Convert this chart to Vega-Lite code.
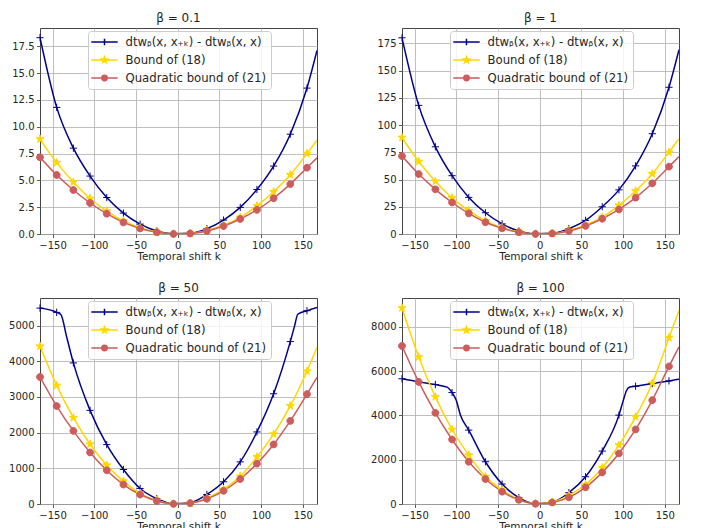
{
  "$schema": "https://vega.github.io/schema/vega-lite/v6.json",
  "padding": {"left": 8, "top": 11, "right": 0, "bottom": 0},
  "background": "white",
  "columns": 2,
  "spacing": {"row": 64, "column": 85},
  "bounds": "flush",
  "data": {"values": [
    {"p":1,"s":"A","k":-165,"v":18.3,"m":1},{"p":1,"s":"A","k":-145,"v":11.8,"m":1},{"p":1,"s":"A","k":-125,"v":8.0,"m":1},{"p":1,"s":"A","k":-105,"v":5.4,"m":1},{"p":1,"s":"A","k":-85,"v":3.4,"m":1},{"p":1,"s":"A","k":-65,"v":1.95,"m":1},{"p":1,"s":"A","k":-45,"v":0.92,"m":1},{"p":1,"s":"A","k":-25,"v":0.28,"m":1},{"p":1,"s":"A","k":-5,"v":0.02,"m":1},{"p":1,"s":"A","k":15,"v":0.06,"m":1},{"p":1,"s":"A","k":35,"v":0.5,"m":1},{"p":1,"s":"A","k":55,"v":1.3,"m":1},{"p":1,"s":"A","k":75,"v":2.48,"m":1},{"p":1,"s":"A","k":95,"v":4.15,"m":1},{"p":1,"s":"A","k":115,"v":6.33,"m":1},{"p":1,"s":"A","k":135,"v":9.3,"m":1},{"p":1,"s":"A","k":155,"v":13.6,"m":1},{"p":1,"s":"A","k":167,"v":17.1,"m":0},
    {"p":1,"s":"B","k":-165,"v":8.85,"m":1},{"p":1,"s":"B","k":-145,"v":6.65,"m":1},{"p":1,"s":"B","k":-125,"v":4.84,"m":1},{"p":1,"s":"B","k":-105,"v":3.31,"m":1},{"p":1,"s":"B","k":-85,"v":2.14,"m":1},{"p":1,"s":"B","k":-65,"v":1.21,"m":1},{"p":1,"s":"B","k":-45,"v":0.58,"m":1},{"p":1,"s":"B","k":-25,"v":0.17,"m":1},{"p":1,"s":"B","k":-5,"v":0.01,"m":1},{"p":1,"s":"B","k":15,"v":0.05,"m":1},{"p":1,"s":"B","k":35,"v":0.33,"m":1},{"p":1,"s":"B","k":55,"v":0.82,"m":1},{"p":1,"s":"B","k":75,"v":1.55,"m":1},{"p":1,"s":"B","k":95,"v":2.63,"m":1},{"p":1,"s":"B","k":115,"v":3.94,"m":1},{"p":1,"s":"B","k":135,"v":5.52,"m":1},{"p":1,"s":"B","k":155,"v":7.5,"m":1},{"p":1,"s":"B","k":167,"v":8.75,"m":0},
    {"p":1,"s":"C","k":-165,"v":7.15,"m":1},{"p":1,"s":"C","k":-145,"v":5.5,"m":1},{"p":1,"s":"C","k":-125,"v":4.1,"m":1},{"p":1,"s":"C","k":-105,"v":2.89,"m":1},{"p":1,"s":"C","k":-85,"v":1.89,"m":1},{"p":1,"s":"C","k":-65,"v":1.08,"m":1},{"p":1,"s":"C","k":-45,"v":0.52,"m":1},{"p":1,"s":"C","k":-25,"v":0.17,"m":1},{"p":1,"s":"C","k":-5,"v":0.01,"m":1},{"p":1,"s":"C","k":15,"v":0.05,"m":1},{"p":1,"s":"C","k":35,"v":0.28,"m":1},{"p":1,"s":"C","k":55,"v":0.74,"m":1},{"p":1,"s":"C","k":75,"v":1.4,"m":1},{"p":1,"s":"C","k":95,"v":2.25,"m":1},{"p":1,"s":"C","k":115,"v":3.33,"m":1},{"p":1,"s":"C","k":135,"v":4.65,"m":1},{"p":1,"s":"C","k":155,"v":6.18,"m":1},{"p":1,"s":"C","k":167,"v":7.1,"m":0},

    {"p":2,"s":"A","k":-165,"v":180,"m":1},{"p":2,"s":"A","k":-145,"v":118,"m":1},{"p":2,"s":"A","k":-125,"v":80,"m":1},{"p":2,"s":"A","k":-105,"v":53.5,"m":1},{"p":2,"s":"A","k":-85,"v":33.6,"m":1},{"p":2,"s":"A","k":-65,"v":19.5,"m":1},{"p":2,"s":"A","k":-45,"v":9.3,"m":1},{"p":2,"s":"A","k":-25,"v":2.8,"m":1},{"p":2,"s":"A","k":-5,"v":0.2,"m":1},{"p":2,"s":"A","k":15,"v":0.6,"m":1},{"p":2,"s":"A","k":35,"v":5,"m":1},{"p":2,"s":"A","k":55,"v":12.5,"m":1},{"p":2,"s":"A","k":75,"v":25,"m":1},{"p":2,"s":"A","k":95,"v":40.5,"m":1},{"p":2,"s":"A","k":115,"v":62.5,"m":1},{"p":2,"s":"A","k":135,"v":92,"m":1},{"p":2,"s":"A","k":155,"v":134.6,"m":1},{"p":2,"s":"A","k":167,"v":169,"m":0},
    {"p":2,"s":"B","k":-165,"v":88.5,"m":1},{"p":2,"s":"B","k":-145,"v":66.5,"m":1},{"p":2,"s":"B","k":-125,"v":48.4,"m":1},{"p":2,"s":"B","k":-105,"v":33.1,"m":1},{"p":2,"s":"B","k":-85,"v":21.4,"m":1},{"p":2,"s":"B","k":-65,"v":12.1,"m":1},{"p":2,"s":"B","k":-45,"v":5.8,"m":1},{"p":2,"s":"B","k":-25,"v":1.7,"m":1},{"p":2,"s":"B","k":-5,"v":0.1,"m":1},{"p":2,"s":"B","k":15,"v":0.5,"m":1},{"p":2,"s":"B","k":35,"v":3.3,"m":1},{"p":2,"s":"B","k":55,"v":8.2,"m":1},{"p":2,"s":"B","k":75,"v":15.5,"m":1},{"p":2,"s":"B","k":95,"v":26.3,"m":1},{"p":2,"s":"B","k":115,"v":39.4,"m":1},{"p":2,"s":"B","k":135,"v":55.2,"m":1},{"p":2,"s":"B","k":155,"v":75,"m":1},{"p":2,"s":"B","k":167,"v":87.5,"m":0},
    {"p":2,"s":"C","k":-165,"v":71.5,"m":1},{"p":2,"s":"C","k":-145,"v":55,"m":1},{"p":2,"s":"C","k":-125,"v":41,"m":1},{"p":2,"s":"C","k":-105,"v":28.9,"m":1},{"p":2,"s":"C","k":-85,"v":18.9,"m":1},{"p":2,"s":"C","k":-65,"v":10.8,"m":1},{"p":2,"s":"C","k":-45,"v":5.2,"m":1},{"p":2,"s":"C","k":-25,"v":1.7,"m":1},{"p":2,"s":"C","k":-5,"v":0.1,"m":1},{"p":2,"s":"C","k":15,"v":0.5,"m":1},{"p":2,"s":"C","k":35,"v":2.8,"m":1},{"p":2,"s":"C","k":55,"v":7.4,"m":1},{"p":2,"s":"C","k":75,"v":14,"m":1},{"p":2,"s":"C","k":95,"v":22.5,"m":1},{"p":2,"s":"C","k":115,"v":33.3,"m":1},{"p":2,"s":"C","k":135,"v":46.5,"m":1},{"p":2,"s":"C","k":155,"v":61.8,"m":1},{"p":2,"s":"C","k":167,"v":71,"m":0},

    {"p":3,"s":"A","k":-165,"v":5492,"m":1},{"p":3,"s":"A","k":-145,"v":5372,"m":1},{"p":3,"s":"A","k":-140,"v":5310,"m":0},{"p":3,"s":"A","k":-133,"v":4680,"m":0},{"p":3,"s":"A","k":-125,"v":3955,"m":1},{"p":3,"s":"A","k":-105,"v":2625,"m":1},{"p":3,"s":"A","k":-85,"v":1665,"m":1},{"p":3,"s":"A","k":-65,"v":967,"m":1},{"p":3,"s":"A","k":-45,"v":436,"m":1},{"p":3,"s":"A","k":-25,"v":150,"m":1},{"p":3,"s":"A","k":-5,"v":8,"m":1},{"p":3,"s":"A","k":15,"v":35,"m":1},{"p":3,"s":"A","k":35,"v":268,"m":1},{"p":3,"s":"A","k":55,"v":623,"m":1},{"p":3,"s":"A","k":75,"v":1181,"m":1},{"p":3,"s":"A","k":95,"v":2020,"m":1},{"p":3,"s":"A","k":115,"v":3090,"m":1},{"p":3,"s":"A","k":135,"v":4553,"m":1},{"p":3,"s":"A","k":140,"v":4980,"m":0},{"p":3,"s":"A","k":144,"v":5320,"m":0},{"p":3,"s":"A","k":155,"v":5419,"m":1},{"p":3,"s":"A","k":167,"v":5511,"m":0},
    {"p":3,"s":"B","k":-165,"v":4422,"m":1},{"p":3,"s":"B","k":-145,"v":3324,"m":1},{"p":3,"s":"B","k":-125,"v":2419,"m":1},{"p":3,"s":"B","k":-105,"v":1676,"m":1},{"p":3,"s":"B","k":-85,"v":1089,"m":1},{"p":3,"s":"B","k":-65,"v":642,"m":1},{"p":3,"s":"B","k":-45,"v":300,"m":1},{"p":3,"s":"B","k":-25,"v":100,"m":1},{"p":3,"s":"B","k":-5,"v":5,"m":1},{"p":3,"s":"B","k":15,"v":20,"m":1},{"p":3,"s":"B","k":35,"v":165,"m":1},{"p":3,"s":"B","k":55,"v":410,"m":1},{"p":3,"s":"B","k":75,"v":775,"m":1},{"p":3,"s":"B","k":95,"v":1320,"m":1},{"p":3,"s":"B","k":115,"v":1960,"m":1},{"p":3,"s":"B","k":135,"v":2750,"m":1},{"p":3,"s":"B","k":155,"v":3723,"m":1},{"p":3,"s":"B","k":167,"v":4390,"m":0},
    {"p":3,"s":"C","k":-165,"v":3560,"m":1},{"p":3,"s":"C","k":-145,"v":2746,"m":1},{"p":3,"s":"C","k":-125,"v":2050,"m":1},{"p":3,"s":"C","k":-105,"v":1445,"m":1},{"p":3,"s":"C","k":-85,"v":945,"m":1},{"p":3,"s":"C","k":-65,"v":545,"m":1},{"p":3,"s":"C","k":-45,"v":265,"m":1},{"p":3,"s":"C","k":-25,"v":85,"m":1},{"p":3,"s":"C","k":-5,"v":5,"m":1},{"p":3,"s":"C","k":15,"v":25,"m":1},{"p":3,"s":"C","k":35,"v":145,"m":1},{"p":3,"s":"C","k":55,"v":370,"m":1},{"p":3,"s":"C","k":75,"v":700,"m":1},{"p":3,"s":"C","k":95,"v":1130,"m":1},{"p":3,"s":"C","k":115,"v":1670,"m":1},{"p":3,"s":"C","k":135,"v":2330,"m":1},{"p":3,"s":"C","k":155,"v":3080,"m":1},{"p":3,"s":"C","k":167,"v":3550,"m":0},

    {"p":4,"s":"A","k":-165,"v":5660,"m":1},{"p":4,"s":"A","k":-145,"v":5519,"m":1},{"p":4,"s":"A","k":-125,"v":5397,"m":1},{"p":4,"s":"A","k":-111,"v":5280,"m":0},{"p":4,"s":"A","k":-105,"v":5036,"m":1},{"p":4,"s":"A","k":-100,"v":4690,"m":0},{"p":4,"s":"A","k":-95,"v":4020,"m":0},{"p":4,"s":"A","k":-85,"v":3339,"m":1},{"p":4,"s":"A","k":-65,"v":1909,"m":1},{"p":4,"s":"A","k":-45,"v":902,"m":1},{"p":4,"s":"A","k":-25,"v":290,"m":1},{"p":4,"s":"A","k":-5,"v":15,"m":1},{"p":4,"s":"A","k":15,"v":80,"m":1},{"p":4,"s":"A","k":35,"v":511,"m":1},{"p":4,"s":"A","k":55,"v":1232,"m":1},{"p":4,"s":"A","k":75,"v":2392,"m":1},{"p":4,"s":"A","k":95,"v":4016,"m":1},{"p":4,"s":"A","k":100,"v":4650,"m":0},{"p":4,"s":"A","k":104,"v":5120,"m":0},{"p":4,"s":"A","k":108,"v":5285,"m":0},{"p":4,"s":"A","k":115,"v":5325,"m":1},{"p":4,"s":"A","k":135,"v":5442,"m":1},{"p":4,"s":"A","k":155,"v":5564,"m":1},{"p":4,"s":"A","k":167,"v":5641,"m":0},
    {"p":4,"s":"B","k":-165,"v":8858,"m":1},{"p":4,"s":"B","k":-145,"v":6647,"m":1},{"p":4,"s":"B","k":-125,"v":4842,"m":1},{"p":4,"s":"B","k":-105,"v":3367,"m":1},{"p":4,"s":"B","k":-85,"v":2211,"m":1},{"p":4,"s":"B","k":-65,"v":1240,"m":1},{"p":4,"s":"B","k":-45,"v":640,"m":1},{"p":4,"s":"B","k":-25,"v":200,"m":1},{"p":4,"s":"B","k":-5,"v":12,"m":1},{"p":4,"s":"B","k":15,"v":80,"m":1},{"p":4,"s":"B","k":35,"v":400,"m":1},{"p":4,"s":"B","k":55,"v":880,"m":1},{"p":4,"s":"B","k":75,"v":1640,"m":1},{"p":4,"s":"B","k":95,"v":2662,"m":1},{"p":4,"s":"B","k":115,"v":3940,"m":1},{"p":4,"s":"B","k":135,"v":5460,"m":1},{"p":4,"s":"B","k":155,"v":7518,"m":1},{"p":4,"s":"B","k":167,"v":8750,"m":0},
    {"p":4,"s":"C","k":-165,"v":7143,"m":1},{"p":4,"s":"C","k":-145,"v":5519,"m":1},{"p":4,"s":"C","k":-125,"v":4120,"m":1},{"p":4,"s":"C","k":-105,"v":2915,"m":1},{"p":4,"s":"C","k":-85,"v":1909,"m":1},{"p":4,"s":"C","k":-65,"v":1128,"m":1},{"p":4,"s":"C","k":-45,"v":557,"m":1},{"p":4,"s":"C","k":-25,"v":190,"m":1},{"p":4,"s":"C","k":-5,"v":15,"m":1},{"p":4,"s":"C","k":15,"v":70,"m":1},{"p":4,"s":"C","k":35,"v":300,"m":1},{"p":4,"s":"C","k":55,"v":752,"m":1},{"p":4,"s":"C","k":75,"v":1429,"m":1},{"p":4,"s":"C","k":95,"v":2286,"m":1},{"p":4,"s":"C","k":115,"v":3369,"m":1},{"p":4,"s":"C","k":135,"v":4693,"m":1},{"p":4,"s":"C","k":155,"v":6220,"m":1},{"p":4,"s":"C","k":167,"v":7100,"m":0}
  ]},
  "concat": [
    {
      "title": "β = 0.1",
      "width": 277, "height": 206,
      "transform": [{"filter": "datum.p == 1"}],
      "encoding": {
        "x": {"field": "k", "type": "quantitative", "scale": {"domain": [-165, 167], "nice": false, "zero": false}, "axis": {"values": [-150, -100, -50, 0, 50, 100, 150], "title": "Temporal shift k"}},
        "y": {"field": "v", "type": "quantitative", "scale": {"domain": [0, 19.2], "nice": false}, "axis": {"values": [0, 2.5, 5, 7.5, 10, 12.5, 15, 17.5], "format": ".1f", "title": null}}
      },
      "layer": [
        {"mark": {"type": "line", "interpolate": "monotone", "strokeWidth": 1.5, "clip": true},
         "encoding": {"detail": {"field": "s", "type": "nominal"}, "stroke": {"condition": [{"test": "datum.s == 'A'", "value": "#00008B"}, {"test": "datum.s == 'B'", "value": "#FFD700"}], "value": "#CD5C5C"}}},
        {"transform": [{"filter": "datum.m == 1"}],
         "mark": {"type": "point", "filled": true, "size": 64, "strokeWidth": 1, "opacity": 1},
         "encoding": {
           "fill": {"condition": [{"test": "datum.s == 'A'", "value": "#00008B"}, {"test": "datum.s == 'B'", "value": "#FFD700"}], "value": "#CD5C5C"},
           "stroke": {"condition": [{"test": "datum.s == 'A'", "value": "#00008B"}, {"test": "datum.s == 'B'", "value": "#FFD700"}], "value": "#CD5C5C"},
           "shape": {"condition": [{"test": "datum.s == 'A'", "value": "M-0.9,0H0.9M0,-0.9V0.9"}, {"test": "datum.s == 'B'", "value": "M0,-1.05L0.236,-0.324L0.999,-0.324L0.381,0.124L0.617,0.849L0,0.401L-0.617,0.849L-0.381,0.124L-0.999,-0.324L-0.236,-0.324Z"}], "value": "M0.85,0A0.85,0.85,0,1,1,-0.85,0A0.85,0.85,0,1,1,0.85,0Z"}
         }},
        {"transform": [{"filter": "datum.m == 9"}],
         "mark": {"type": "point", "filled": true, "size": 144, "strokeWidth": 1.5, "opacity": 1},
         "encoding": {
           "color": {"field": "s", "type": "nominal", "scale": {"domain": ["A", "B", "C"], "range": ["#00008B", "#FFD700", "#CD5C5C"]}, "legend": {"title": null, "labelExpr": "datum.value == 'A' ? 'dtwᵦ(x, x₊ₖ) - dtwᵦ(x, x)' : datum.value == 'B' ? 'Bound of (18)' : 'Quadratic bound of (21)'"}},
           "stroke": {"field": "s", "type": "nominal", "scale": {"domain": ["A", "B", "C"], "range": ["#00008B", "#FFD700", "#CD5C5C"]}, "legend": {"title": null, "labelExpr": "datum.value == 'A' ? 'dtwᵦ(x, x₊ₖ) - dtwᵦ(x, x)' : datum.value == 'B' ? 'Bound of (18)' : 'Quadratic bound of (21)'"}},
           "shape": {"field": "s", "type": "nominal", "scale": {"domain": ["A", "B", "C"], "range": ["M-2.2,0H2.2M0,-0.55V0.55", "M-2.2,0H2.2M0,-0.5L0.113,-0.155L0.476,-0.155L0.182,0.059L0.294,0.405L0,0.191L-0.294,0.405L-0.182,0.059L-0.476,-0.155L-0.113,-0.155Z", "M-2.2,0H2.2M0.45,0A0.45,0.45,0,1,1,-0.45,0A0.45,0.45,0,1,1,0.45,0Z"]}, "legend": {"title": null, "labelExpr": "datum.value == 'A' ? 'dtwᵦ(x, x₊ₖ) - dtwᵦ(x, x)' : datum.value == 'B' ? 'Bound of (18)' : 'Quadratic bound of (21)'"}}
         }}
      ]
    },
    {
      "title": "β = 1",
      "width": 277, "height": 206,
      "transform": [{"filter": "datum.p == 2"}],
      "encoding": {
        "x": {"field": "k", "type": "quantitative", "scale": {"domain": [-165, 167], "nice": false, "zero": false}, "axis": {"values": [-150, -100, -50, 0, 50, 100, 150], "title": "Temporal shift k"}},
        "y": {"field": "v", "type": "quantitative", "scale": {"domain": [0, 189], "nice": false}, "axis": {"values": [0, 25, 50, 75, 100, 125, 150, 175], "title": null}}
      },
      "layer": [
        {"mark": {"type": "line", "interpolate": "monotone", "strokeWidth": 1.5, "clip": true},
         "encoding": {"detail": {"field": "s", "type": "nominal"}, "stroke": {"condition": [{"test": "datum.s == 'A'", "value": "#00008B"}, {"test": "datum.s == 'B'", "value": "#FFD700"}], "value": "#CD5C5C"}}},
        {"transform": [{"filter": "datum.m == 1"}],
         "mark": {"type": "point", "filled": true, "size": 64, "strokeWidth": 1, "opacity": 1},
         "encoding": {
           "fill": {"condition": [{"test": "datum.s == 'A'", "value": "#00008B"}, {"test": "datum.s == 'B'", "value": "#FFD700"}], "value": "#CD5C5C"},
           "stroke": {"condition": [{"test": "datum.s == 'A'", "value": "#00008B"}, {"test": "datum.s == 'B'", "value": "#FFD700"}], "value": "#CD5C5C"},
           "shape": {"condition": [{"test": "datum.s == 'A'", "value": "M-0.9,0H0.9M0,-0.9V0.9"}, {"test": "datum.s == 'B'", "value": "M0,-1.05L0.236,-0.324L0.999,-0.324L0.381,0.124L0.617,0.849L0,0.401L-0.617,0.849L-0.381,0.124L-0.999,-0.324L-0.236,-0.324Z"}], "value": "M0.85,0A0.85,0.85,0,1,1,-0.85,0A0.85,0.85,0,1,1,0.85,0Z"}
         }},
        {"transform": [{"filter": "datum.m == 9"}],
         "mark": {"type": "point", "filled": true, "size": 144, "strokeWidth": 1.5, "opacity": 1},
         "encoding": {
           "color": {"field": "s", "type": "nominal", "scale": {"domain": ["A", "B", "C"], "range": ["#00008B", "#FFD700", "#CD5C5C"]}, "legend": {"title": null, "labelExpr": "datum.value == 'A' ? 'dtwᵦ(x, x₊ₖ) - dtwᵦ(x, x)' : datum.value == 'B' ? 'Bound of (18)' : 'Quadratic bound of (21)'"}},
           "stroke": {"field": "s", "type": "nominal", "scale": {"domain": ["A", "B", "C"], "range": ["#00008B", "#FFD700", "#CD5C5C"]}, "legend": {"title": null, "labelExpr": "datum.value == 'A' ? 'dtwᵦ(x, x₊ₖ) - dtwᵦ(x, x)' : datum.value == 'B' ? 'Bound of (18)' : 'Quadratic bound of (21)'"}},
           "shape": {"field": "s", "type": "nominal", "scale": {"domain": ["A", "B", "C"], "range": ["M-2.2,0H2.2M0,-0.55V0.55", "M-2.2,0H2.2M0,-0.5L0.113,-0.155L0.476,-0.155L0.182,0.059L0.294,0.405L0,0.191L-0.294,0.405L-0.182,0.059L-0.476,-0.155L-0.113,-0.155Z", "M-2.2,0H2.2M0.45,0A0.45,0.45,0,1,1,-0.45,0A0.45,0.45,0,1,1,0.45,0Z"]}, "legend": {"title": null, "labelExpr": "datum.value == 'A' ? 'dtwᵦ(x, x₊ₖ) - dtwᵦ(x, x)' : datum.value == 'B' ? 'Bound of (18)' : 'Quadratic bound of (21)'"}}
         }}
      ]
    },
    {
      "title": "β = 50",
      "width": 277, "height": 206,
      "transform": [{"filter": "datum.p == 3"}],
      "encoding": {
        "x": {"field": "k", "type": "quantitative", "scale": {"domain": [-165, 167], "nice": false, "zero": false}, "axis": {"values": [-150, -100, -50, 0, 50, 100, 150], "title": "Temporal shift k"}},
        "y": {"field": "v", "type": "quantitative", "scale": {"domain": [0, 5775], "nice": false}, "axis": {"values": [0, 1000, 2000, 3000, 4000, 5000], "format": "d", "title": null}}
      },
      "layer": [
        {"mark": {"type": "line", "interpolate": "monotone", "strokeWidth": 1.5, "clip": true},
         "encoding": {"detail": {"field": "s", "type": "nominal"}, "stroke": {"condition": [{"test": "datum.s == 'A'", "value": "#00008B"}, {"test": "datum.s == 'B'", "value": "#FFD700"}], "value": "#CD5C5C"}}},
        {"transform": [{"filter": "datum.m == 1"}],
         "mark": {"type": "point", "filled": true, "size": 64, "strokeWidth": 1, "opacity": 1},
         "encoding": {
           "fill": {"condition": [{"test": "datum.s == 'A'", "value": "#00008B"}, {"test": "datum.s == 'B'", "value": "#FFD700"}], "value": "#CD5C5C"},
           "stroke": {"condition": [{"test": "datum.s == 'A'", "value": "#00008B"}, {"test": "datum.s == 'B'", "value": "#FFD700"}], "value": "#CD5C5C"},
           "shape": {"condition": [{"test": "datum.s == 'A'", "value": "M-0.9,0H0.9M0,-0.9V0.9"}, {"test": "datum.s == 'B'", "value": "M0,-1.05L0.236,-0.324L0.999,-0.324L0.381,0.124L0.617,0.849L0,0.401L-0.617,0.849L-0.381,0.124L-0.999,-0.324L-0.236,-0.324Z"}], "value": "M0.85,0A0.85,0.85,0,1,1,-0.85,0A0.85,0.85,0,1,1,0.85,0Z"}
         }},
        {"transform": [{"filter": "datum.m == 9"}],
         "mark": {"type": "point", "filled": true, "size": 144, "strokeWidth": 1.5, "opacity": 1},
         "encoding": {
           "color": {"field": "s", "type": "nominal", "scale": {"domain": ["A", "B", "C"], "range": ["#00008B", "#FFD700", "#CD5C5C"]}, "legend": {"title": null, "labelExpr": "datum.value == 'A' ? 'dtwᵦ(x, x₊ₖ) - dtwᵦ(x, x)' : datum.value == 'B' ? 'Bound of (18)' : 'Quadratic bound of (21)'"}},
           "stroke": {"field": "s", "type": "nominal", "scale": {"domain": ["A", "B", "C"], "range": ["#00008B", "#FFD700", "#CD5C5C"]}, "legend": {"title": null, "labelExpr": "datum.value == 'A' ? 'dtwᵦ(x, x₊ₖ) - dtwᵦ(x, x)' : datum.value == 'B' ? 'Bound of (18)' : 'Quadratic bound of (21)'"}},
           "shape": {"field": "s", "type": "nominal", "scale": {"domain": ["A", "B", "C"], "range": ["M-2.2,0H2.2M0,-0.55V0.55", "M-2.2,0H2.2M0,-0.5L0.113,-0.155L0.476,-0.155L0.182,0.059L0.294,0.405L0,0.191L-0.294,0.405L-0.182,0.059L-0.476,-0.155L-0.113,-0.155Z", "M-2.2,0H2.2M0.45,0A0.45,0.45,0,1,1,-0.45,0A0.45,0.45,0,1,1,0.45,0Z"]}, "legend": {"title": null, "labelExpr": "datum.value == 'A' ? 'dtwᵦ(x, x₊ₖ) - dtwᵦ(x, x)' : datum.value == 'B' ? 'Bound of (18)' : 'Quadratic bound of (21)'"}}
         }}
      ]
    },
    {
      "title": "β = 100",
      "width": 277, "height": 206,
      "transform": [{"filter": "datum.p == 4"}],
      "encoding": {
        "x": {"field": "k", "type": "quantitative", "scale": {"domain": [-165, 167], "nice": false, "zero": false}, "axis": {"values": [-150, -100, -50, 0, 50, 100, 150], "title": "Temporal shift k"}},
        "y": {"field": "v", "type": "quantitative", "scale": {"domain": [0, 9310], "nice": false}, "axis": {"values": [0, 2000, 4000, 6000, 8000], "format": "d", "title": null}}
      },
      "layer": [
        {"mark": {"type": "line", "interpolate": "monotone", "strokeWidth": 1.5, "clip": true},
         "encoding": {"detail": {"field": "s", "type": "nominal"}, "stroke": {"condition": [{"test": "datum.s == 'A'", "value": "#00008B"}, {"test": "datum.s == 'B'", "value": "#FFD700"}], "value": "#CD5C5C"}}},
        {"transform": [{"filter": "datum.m == 1"}],
         "mark": {"type": "point", "filled": true, "size": 64, "strokeWidth": 1, "opacity": 1},
         "encoding": {
           "fill": {"condition": [{"test": "datum.s == 'A'", "value": "#00008B"}, {"test": "datum.s == 'B'", "value": "#FFD700"}], "value": "#CD5C5C"},
           "stroke": {"condition": [{"test": "datum.s == 'A'", "value": "#00008B"}, {"test": "datum.s == 'B'", "value": "#FFD700"}], "value": "#CD5C5C"},
           "shape": {"condition": [{"test": "datum.s == 'A'", "value": "M-0.9,0H0.9M0,-0.9V0.9"}, {"test": "datum.s == 'B'", "value": "M0,-1.05L0.236,-0.324L0.999,-0.324L0.381,0.124L0.617,0.849L0,0.401L-0.617,0.849L-0.381,0.124L-0.999,-0.324L-0.236,-0.324Z"}], "value": "M0.85,0A0.85,0.85,0,1,1,-0.85,0A0.85,0.85,0,1,1,0.85,0Z"}
         }},
        {"transform": [{"filter": "datum.m == 9"}],
         "mark": {"type": "point", "filled": true, "size": 144, "strokeWidth": 1.5, "opacity": 1},
         "encoding": {
           "color": {"field": "s", "type": "nominal", "scale": {"domain": ["A", "B", "C"], "range": ["#00008B", "#FFD700", "#CD5C5C"]}, "legend": {"title": null, "labelExpr": "datum.value == 'A' ? 'dtwᵦ(x, x₊ₖ) - dtwᵦ(x, x)' : datum.value == 'B' ? 'Bound of (18)' : 'Quadratic bound of (21)'"}},
           "stroke": {"field": "s", "type": "nominal", "scale": {"domain": ["A", "B", "C"], "range": ["#00008B", "#FFD700", "#CD5C5C"]}, "legend": {"title": null, "labelExpr": "datum.value == 'A' ? 'dtwᵦ(x, x₊ₖ) - dtwᵦ(x, x)' : datum.value == 'B' ? 'Bound of (18)' : 'Quadratic bound of (21)'"}},
           "shape": {"field": "s", "type": "nominal", "scale": {"domain": ["A", "B", "C"], "range": ["M-2.2,0H2.2M0,-0.55V0.55", "M-2.2,0H2.2M0,-0.5L0.113,-0.155L0.476,-0.155L0.182,0.059L0.294,0.405L0,0.191L-0.294,0.405L-0.182,0.059L-0.476,-0.155L-0.113,-0.155Z", "M-2.2,0H2.2M0.45,0A0.45,0.45,0,1,1,-0.45,0A0.45,0.45,0,1,1,0.45,0Z"]}, "legend": {"title": null, "labelExpr": "datum.value == 'A' ? 'dtwᵦ(x, x₊ₖ) - dtwᵦ(x, x)' : datum.value == 'B' ? 'Bound of (18)' : 'Quadratic bound of (21)'"}}
         }}
      ]
    }
  ],
  "resolve": {
    "scale": {"x": "independent", "y": "independent", "color": "independent", "stroke": "independent", "shape": "independent"},
    "legend": {"color": "independent", "stroke": "independent", "shape": "independent"}
  },
  "config": {
    "font": "DejaVu Sans",
    "view": {"stroke": "#444444", "strokeWidth": 1},
    "axis": {"grid": true, "gridColor": "#b0b0b0", "gridWidth": 0.8, "domain": false, "ticks": true, "tickColor": "#333333", "tickSize": 3.5, "tickWidth": 0.8, "labelFont": "DejaVu Sans", "labelFontSize": 10, "labelColor": "#262626", "labelPadding": 2.5, "titleFont": "DejaVu Sans", "titleFontSize": 10.5, "titleFontWeight": "normal", "titleColor": "#262626", "titlePadding": 1},
    "title": {"font": "DejaVu Sans", "fontSize": 12, "fontWeight": "normal", "color": "#262626", "offset": 3},
    "legend": {"orient": "none", "legendX": 48, "legendY": 3, "fillColor": "rgba(255,255,255,0.8)", "strokeColor": "#cccccc", "cornerRadius": 3, "padding": 4, "labelFont": "DejaVu Sans", "labelFontSize": 11.7, "labelColor": "#262626", "symbolSize": 144, "symbolStrokeWidth": 1.5, "symbolOffset": 5.5, "labelOffset": 14, "rowPadding": 4, "labelLimit": 300}
  }
}
